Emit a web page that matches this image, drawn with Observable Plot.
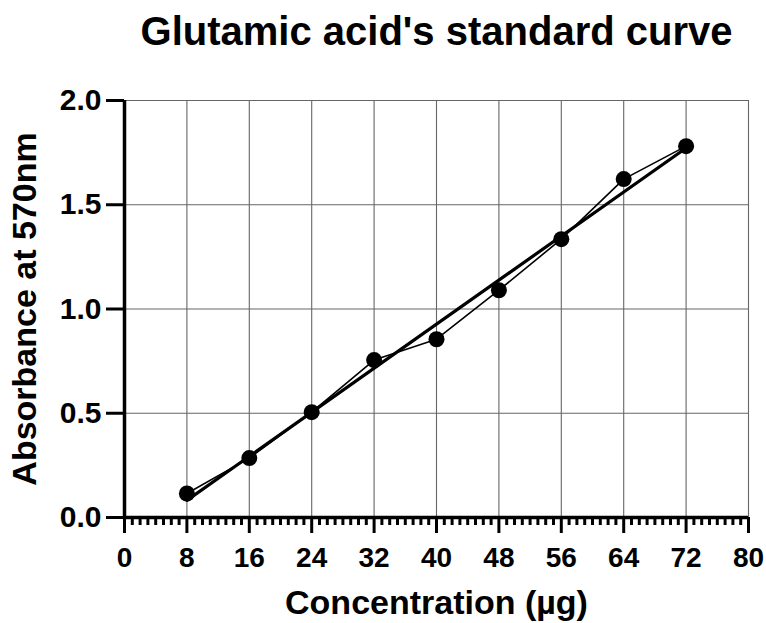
<!DOCTYPE html>
<html>
<head>
<meta charset="utf-8">
<script src="https://cdn.jsdelivr.net/npm/d3@7"></script>
<script src="https://cdn.jsdelivr.net/npm/@observablehq/plot@0.6"></script>
<style>
  html, body { margin: 0; padding: 0; background: #fff; }
</style>
</head>
<body>
<div id="chart"></div>
<script>
const title = "Glutamic acid's standard curve";
const xLabel = "Concentration (µg)";
const yLabel = "Absorbance at 570nm";

const concentration = [8, 16, 24, 32, 40, 48, 56, 64, 72];
const absorbance = [0.115, 0.285, 0.505, 0.755, 0.855, 1.09, 1.335, 1.623, 1.781];

const xMajorTicks = [0, 8, 16, 24, 32, 40, 48, 56, 64, 72, 80];
const xMinorTicks = d3.range(0, 81).filter(d => d % 8 !== 0);
const yTicks = [0, 0.5, 1.0, 1.5, 2.0];
const xGrid = [8, 16, 24, 32, 40, 48, 56, 64, 72, 80];
const yGrid = [0.5, 1.0, 1.5, 2.0];

const data = concentration.map((c, i) => ({x: c, y: absorbance[i]}));

const font = "'Liberation Sans', Arial, Helvetica, sans-serif";

const chart = Plot.plot({
  width: 766,
  height: 623,
  marginTop: 100,
  marginBottom: 106,
  marginLeft: 124,
  marginRight: 18,
  style: {fontFamily: font, fontWeight: "bold", background: "#fff", overflow: "visible"},
  x: {domain: [0, 80]},
  y: {domain: [0, 2]},
  marks: [
    Plot.gridX(xGrid, {stroke: "#666", strokeOpacity: 1, strokeWidth: 1.1}),
    Plot.gridY(yGrid, {stroke: "#666", strokeOpacity: 1, strokeWidth: 1.1}),
    Plot.line(data, {x: "x", y: "y", stroke: "black", strokeWidth: 1.6}),
    Plot.linearRegressionY(data, {x: "x", y: "y", stroke: "black", strokeWidth: 3.2, ci: 0}),
    Plot.dot(data, {x: "x", y: "y", r: 8, fill: "black", stroke: "none"}),
    Plot.axisX({ticks: xMinorTicks, tickSize: 8, tickFormat: () => "", strokeWidth: 3, label: null}),
    Plot.axisX({ticks: xMajorTicks, tickSize: 16, tickPadding: 14, strokeWidth: 3, fontSize: 28, fontWeight: "bold", label: null}),
    Plot.axisY({ticks: yTicks, tickSize: 18, tickPadding: 5, strokeWidth: 3, tickFormat: d3.format(".1f"), fontSize: 30, fontWeight: "bold", label: null}),
    Plot.ruleX([0], {stroke: "black", strokeWidth: 3.5}),
    Plot.ruleY([0], {stroke: "black", strokeWidth: 3.5}),
    Plot.text([title], {frameAnchor: "top", lineAnchor: "bottom", dy: -56, fontSize: 40, fontWeight: "bold", fill: "black"}),
    Plot.text([xLabel], {frameAnchor: "bottom", lineAnchor: "bottom", dy: 96, fontSize: 34, fontWeight: "bold", fill: "black"}),
    Plot.text([yLabel], {frameAnchor: "left", textAnchor: "middle", rotate: -90, lineAnchor: "middle", dx: -99, fontSize: 34, fontWeight: "bold", fill: "black"})
  ]
});

document.getElementById("chart").appendChild(chart);
</script>
</body>
</html>
